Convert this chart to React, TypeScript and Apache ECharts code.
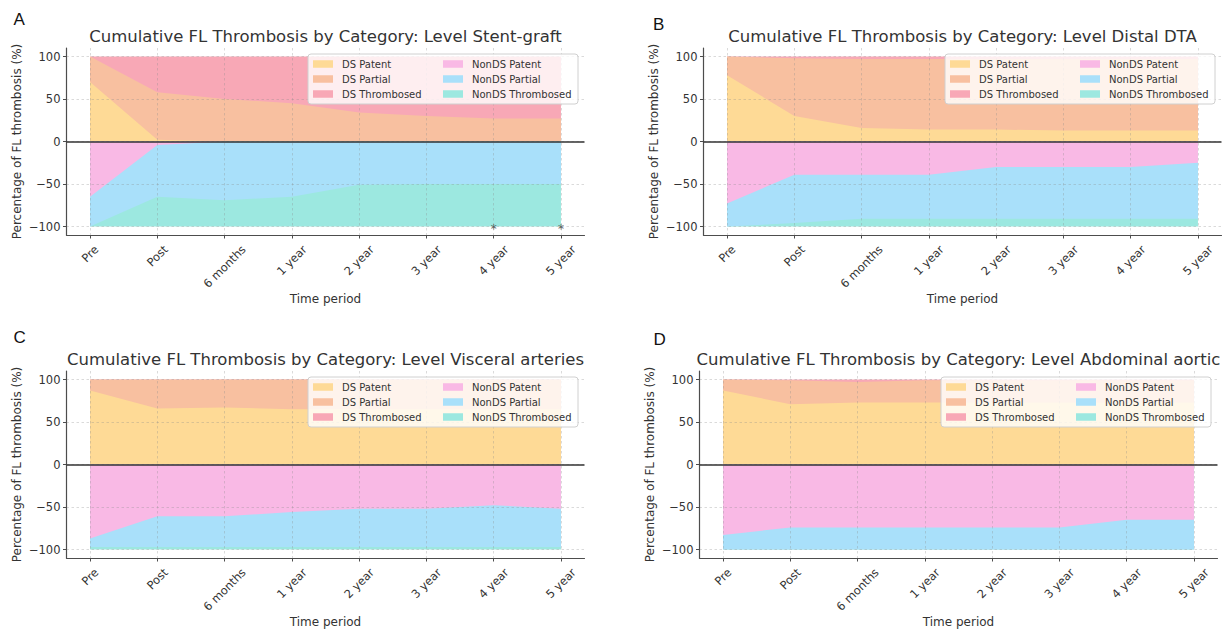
import React, { useEffect, useRef } from 'react';
import * as echarts from 'echarts';

// ---------- data ----------
const categories = ['Pre', 'Post', '6 months', '1 year', '2 year', '3 year', '4 year', '5 year'];
const seriesNames = ['DS Patent', 'DS Partial', 'DS Thrombosed', 'NonDS Patent', 'NonDS Partial', 'NonDS Thrombosed'];
const legendOrder = ['DS Patent', 'NonDS Patent', 'DS Partial', 'NonDS Partial', 'DS Thrombosed', 'NonDS Thrombosed'];
const yTicks = [-100, -50, 0, 50, 100];

// Panel A – Stent-graft
const stentDsPatent = [70, 2, 0, 0, 0, 0, 0, 0];
const stentDsPartial = [30, 56, 50, 45, 34, 30, 27, 27];
const stentDsThrombosed = [0, 42, 50, 55, 66, 70, 73, 73];
const stentNonPatent = [65, 4, 0, 0, 0, 0, 0, 0];
const stentNonPartial = [35, 61, 69, 65, 51, 50, 50, 50];
const stentNonThrombosed = [0, 35, 31, 35, 49, 50, 50, 50];
const stentAsteriskCategories = ['4 year', '5 year'];
const asteriskLevel = -100;

// Panel B – Distal DTA
const distalDsPatent = [78, 30, 16, 14, 14, 13, 13, 13];
const distalDsPartial = [22, 68, 81, 83, 83, 84, 84, 84];
const distalDsThrombosed = [0, 2, 3, 3, 3, 3, 3, 3];
const distalNonPatent = [73, 39, 39, 39, 30, 30, 30, 25];
const distalNonPartial = [27, 57, 52, 52, 61, 61, 61, 66];
const distalNonThrombosed = [0, 4, 9, 9, 9, 9, 9, 9];

// Panel C – Visceral arteries
const visceralDsPatent = [87, 66, 67, 65, 65, 65, 65, 65];
const visceralDsPartial = [13, 34, 33, 35, 35, 35, 35, 35];
const visceralDsThrombosed = [0, 0, 0, 0, 0, 0, 0, 0];
const visceralNonPatent = [87, 61, 61, 56, 52, 52, 48, 52];
const visceralNonPartial = [10, 36, 36, 41, 45, 45, 49, 45];
const visceralNonThrombosed = [3, 3, 3, 3, 3, 3, 3, 3];

// Panel D – Abdominal aortic
const abdominalDsPatent = [87, 71, 73, 73, 73, 73, 73, 73];
const abdominalDsPartial = [13, 28, 24, 26, 26, 26, 26, 26];
const abdominalDsThrombosed = [0, 1, 3, 1, 1, 1, 1, 1];
const abdominalNonPatent = [83, 74, 74, 74, 74, 74, 65, 65];
const abdominalNonPartial = [17, 26, 26, 26, 26, 26, 35, 35];
const abdominalNonThrombosed = [0, 0, 0, 0, 0, 0, 0, 0];

const panelTitles = [
  'Cumulative FL Thrombosis by Category: Level Stent-graft',
  'Cumulative FL Thrombosis by Category: Level Distal DTA',
  'Cumulative FL Thrombosis by Category: Level Visceral arteries',
  'Cumulative FL Thrombosis by Category: Level Abdominal aortic',
];
const panelLetters = ['A', 'B', 'C', 'D'];

const panelValues = [
  [stentDsPatent, stentDsPartial, stentDsThrombosed, stentNonPatent, stentNonPartial, stentNonThrombosed],
  [distalDsPatent, distalDsPartial, distalDsThrombosed, distalNonPatent, distalNonPartial, distalNonThrombosed],
  [visceralDsPatent, visceralDsPartial, visceralDsThrombosed, visceralNonPatent, visceralNonPartial, visceralNonThrombosed],
  [abdominalDsPatent, abdominalDsPartial, abdominalDsThrombosed, abdominalNonPatent, abdominalNonPartial, abdominalNonThrombosed],
];

// ---------- style / layout ----------
const COLORS = ['#FEDA96', '#F8C0A0', '#F8A8B6', '#F9B9E5', '#A9E0FA', '#9CE8E0'];
const FONT = 'DejaVu Sans';
const GRID_W = 518;
const GRID_H = 187;
const LAYOUT = [
  { left: 66.5, top: 48, letterX: 13.5, letterY: 19 },
  { left: 703.5, top: 48, letterX: 653, letterY: 24 },
  { left: 66.5, top: 371, letterX: 13.5, letterY: 337.5 },
  { left: 699.5, top: 371, letterX: 653.5, letterY: 339 },
];
const AXIS_COLOR = '#4d4d4d';
const TEXT_COLOR = '#333333';
const GRID_LINE = { color: 'rgba(140,140,140,0.4)', width: 0.8, type: [2.5, 2.5] as any };
const X_LABEL_SIZE = 11.5;

function measure(text: string, font: string): number {
  const ctx = document.createElement('canvas').getContext('2d');
  if (!ctx) return text.length * 6.5;
  ctx.font = font;
  return ctx.measureText(text).width;
}

// cumulative sum of the first n layers of a stack, point by point
function cumulative(layers: number[][], n: number): number[] {
  return categories.map((_, i) => {
    let s = 0;
    for (let j = 0; j < n; j++) s += layers[j][i];
    return s;
  });
}

function buildOption() {
  const catIdx = categories.map((_, i) => i);
  const rich: Record<string, any> = {};
  categories.forEach((c, i) => {
    const L = measure(c, `${X_LABEL_SIZE}px "${FONT}"`);
    const s = 0.5 * (L + X_LABEL_SIZE * 1.15);
    rich['c' + i] = { padding: [s, s, 0, 0], fontSize: X_LABEL_SIZE, fontFamily: FONT, color: TEXT_COLOR };
  });

  const grids: any[] = [];
  const xAxes: any[] = [];
  const yAxes: any[] = [];
  const series: any[] = [];
  const legends: any[] = [];
  const titles: any[] = [];
  const graphics: any[] = [];

  LAYOUT.forEach((L, k) => {
    grids.push({ left: L.left, top: L.top, width: GRID_W, height: GRID_H, containLabel: false });
    xAxes.push({
      type: 'value', gridIndex: k, min: -0.35, max: 7.35, z: 3,
      name: 'Time period', nameLocation: 'middle', nameGap: 57,
      nameTextStyle: { fontSize: 12, color: TEXT_COLOR, fontFamily: FONT },
      axisLine: { show: true, onZero: false, lineStyle: { color: AXIS_COLOR, width: 1.2 } },
      axisTick: { show: true, length: 3.5, customValues: catIdx, lineStyle: { color: AXIS_COLOR } },
      axisLabel: {
        customValues: catIdx, rotate: 45, align: 'center', verticalAlign: 'middle', margin: 7.7,
        formatter: (v: number) => `{c${v}|${categories[v]}}`, rich,
      },
      splitLine: { show: true, lineStyle: GRID_LINE },
    });
    yAxes.push({
      type: 'value', gridIndex: k, min: -110, max: 110, z: 3,
      name: 'Percentage of FL thrombosis (%)', nameLocation: 'middle', nameGap: 44,
      nameTextStyle: { fontSize: 12, color: TEXT_COLOR, fontFamily: FONT },
      axisLine: { show: true, onZero: false, lineStyle: { color: AXIS_COLOR, width: 1.2 } },
      axisTick: { show: true, length: 3.5, customValues: yTicks, lineStyle: { color: AXIS_COLOR } },
      axisLabel: {
        customValues: yTicks, margin: 6, fontSize: 11.5, color: TEXT_COLOR, fontFamily: FONT,
        formatter: (v: number) => (v < 0 ? '\u2212' + Math.abs(v) : String(v)),
      },
      splitLine: { show: true, lineStyle: GRID_LINE },
    });

    const layers = panelValues[k];
    const posLayers = layers.slice(0, 3);
    const negLayers = layers.slice(3, 6);
    // draw outermost cumulative band first, inner bands painted over it
    for (let j = 2; j >= 0; j--) {
      const cum = cumulative(posLayers, j + 1);
      series.push({
        type: 'line', name: seriesNames[j], xAxisIndex: k, yAxisIndex: k,
        data: cum.map((v, i) => [i, v]),
        symbol: 'none', showSymbol: false, silent: true, color: COLORS[j],
        lineStyle: { width: 0 }, areaStyle: { color: COLORS[j], opacity: 1, origin: 0 },
        emphasis: { disabled: true }, z: 2,
      });
    }
    for (let j = 2; j >= 0; j--) {
      const cum = cumulative(negLayers, j + 1);
      const s: any = {
        type: 'line', name: seriesNames[j + 3], xAxisIndex: k, yAxisIndex: k,
        data: cum.map((v, i) => [i, -v]),
        symbol: 'none', showSymbol: false, silent: true, color: COLORS[j + 3],
        lineStyle: { width: 0 }, areaStyle: { color: COLORS[j + 3], opacity: 1, origin: 0 },
        emphasis: { disabled: true }, z: 2,
      };
      if (j === 0) {
        s.markLine = {
          silent: true, symbol: ['none', 'none'], label: { show: false },
          lineStyle: { color: '#333333', width: 1.6, type: 'solid' },
          data: [{ yAxis: 0 }],
        };
      }
      series.push(s);
    }

    legends.push({
      left: L.left + 241.5, top: L.top + 6, orient: 'horizontal', width: 262,
      data: legendOrder, icon: 'rect', itemWidth: 20, itemHeight: 7.5, itemGap: 0,
      selectedMode: false,
      itemStyle: { borderWidth: 0 },
      textStyle: { fontSize: 10, color: TEXT_COLOR, fontFamily: FONT, width: 101, lineHeight: 15, padding: [0, 0, 0, 4] },
      backgroundColor: 'rgba(255,255,255,0.8)', borderColor: '#d0d0d0', borderWidth: 1, borderRadius: 3,
      padding: [2.5, 5, 2.5, 5],
    });

    titles.push({
      text: panelTitles[k], left: L.left + GRID_W / 2, top: L.top - 11.3,
      textAlign: 'center', textVerticalAlign: 'middle', padding: 0,
      textStyle: { fontSize: 16.5, fontWeight: 'normal', color: '#333333', fontFamily: FONT },
    });

    graphics.push({
      type: 'text', x: L.letterX, y: L.letterY, silent: true,
      style: { text: panelLetters[k], fontSize: 17, fontFamily: 'Liberation Sans', fill: '#111111', align: 'left', verticalAlign: 'middle' },
    });
  });

  series.push({
    type: 'scatter', name: 'asterisk', xAxisIndex: 0, yAxisIndex: 0,
    data: stentAsteriskCategories.map((c) => [categories.indexOf(c), asteriskLevel]),
    symbolSize: 1, itemStyle: { color: 'rgba(0,0,0,0)' }, silent: true, z: 6,
    label: {
      show: true, formatter: '*', position: 'inside', fontSize: 12, color: '#333333',
      textBorderWidth: 0, fontFamily: FONT, offset: [0, 2.7],
    },
  });

  return {
    animation: false,
    backgroundColor: '#ffffff',
    textStyle: { fontFamily: FONT },
    title: titles,
    grid: grids,
    xAxis: xAxes,
    yAxis: yAxes,
    legend: legends,
    series,
    graphic: graphics,
  };
}

export default function App() {
  const ref = useRef<HTMLDivElement>(null);
  useEffect(() => {
    if (!ref.current) return;
    const chart = echarts.init(ref.current, undefined, { renderer: 'svg' });
    chart.setOption(buildOption() as any);
    return () => chart.dispose();
  }, []);
  return (
    <div
      ref={ref}
      style={{ position: 'absolute', left: 0, top: 0, width: 1230, height: 631, background: '#ffffff' }}
    />
  );
}
